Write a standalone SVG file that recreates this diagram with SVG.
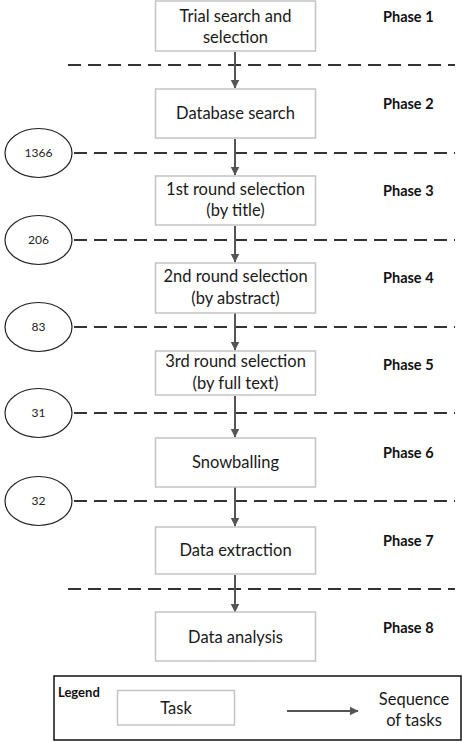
<svg xmlns="http://www.w3.org/2000/svg" width="462" height="743" viewBox="0 0 462 743">
<defs>
<marker id="ah" markerWidth="9" markerHeight="10" refX="7.5" refY="4" orient="auto" markerUnits="userSpaceOnUse" viewBox="0 0 8 8">
<path d="M0,0 L8,4 L0,8 z" fill="#555"/>
</marker>
</defs>
<style>
.box{fill:#fff;stroke:#c4c4c4;stroke-width:1.5}
.t{font-family:Lato,"Liberation Sans",sans-serif;font-size:16.5px;fill:#1a1a1a;text-anchor:middle}
.ph{font-family:Lato,"Liberation Sans",sans-serif;font-size:14.5px;font-weight:bold;fill:#111}
.n{font-family:Lato,"Liberation Sans",sans-serif;font-size:12px;fill:#222;text-anchor:middle}
.ell{fill:#fff;stroke:#222;stroke-width:1.2}
.dash{stroke:#333;stroke-width:1.8;stroke-dasharray:13 7;fill:none}
.arr{stroke:#555;stroke-width:2;fill:none;marker-end:url(#ah)}
</style>
<rect width="462" height="743" fill="#fff"/>
<g id="separators">
<line class="dash" x1="68" y1="65" x2="455" y2="65"/>
<line class="dash" x1="74" y1="153" x2="455" y2="153"/>
<line class="dash" x1="74" y1="240" x2="455" y2="240"/>
<line class="dash" x1="74" y1="327" x2="455" y2="327"/>
<line class="dash" x1="74" y1="413" x2="455" y2="413"/>
<line class="dash" x1="74" y1="501" x2="455" y2="501"/>
<line class="dash" x1="68" y1="589" x2="455" y2="589"/>
</g>
<g id="connectors">
<line class="arr" x1="235" y1="52" x2="235" y2="88"/>
<line class="arr" x1="235" y1="139" x2="235" y2="175"/>
<line class="arr" x1="235" y1="226" x2="235" y2="262"/>
<line class="arr" x1="235" y1="313" x2="235" y2="350"/>
<line class="arr" x1="235" y1="396" x2="235" y2="437"/>
<line class="arr" x1="235" y1="487" x2="235" y2="526"/>
<line class="arr" x1="235" y1="575" x2="235" y2="612"/>
</g>
<g id="n1"><rect class="box" x="155.5" y="1" width="160" height="50"/><text class="t" x="235.5" y="22">Trial search and</text><text class="t" x="235.5" y="43">selection</text></g>
<g id="n2"><rect class="box" x="155.5" y="89" width="160" height="49"/><text class="t" x="235.5" y="119">Database search</text></g>
<g id="n3"><rect class="box" x="155.5" y="176" width="160" height="49"/><text class="t" x="235.5" y="195">1st round selection</text><text class="t" x="235.5" y="216">(by title)</text></g>
<g id="n4"><rect class="box" x="155.5" y="263" width="160" height="50"/><text class="t" x="235.5" y="282">2nd round selection</text><text class="t" x="235.5" y="304">(by abstract)</text></g>
<g id="n5"><rect class="box" x="155.5" y="351" width="160" height="44"/><text class="t" x="235.5" y="367">3rd round selection</text><text class="t" x="235.5" y="389">(by full text)</text></g>
<g id="n6"><rect class="box" x="155.5" y="438" width="160" height="49"/><text class="t" x="235.5" y="468">Snowballing</text></g>
<g id="n7"><rect class="box" x="155.5" y="527" width="160" height="47"/><text class="t" x="235.5" y="556">Data extraction</text></g>
<g id="n8"><rect class="box" x="155.5" y="612" width="160" height="49"/><text class="t" x="235.5" y="643">Data analysis</text></g>
<g id="phases">
<text class="ph" x="383" y="22">Phase 1</text>
<text class="ph" x="383" y="109">Phase 2</text>
<text class="ph" x="383" y="196">Phase 3</text>
<text class="ph" x="383" y="283">Phase 4</text>
<text class="ph" x="383" y="370">Phase 5</text>
<text class="ph" x="383" y="458">Phase 6</text>
<text class="ph" x="383" y="546">Phase 7</text>
<text class="ph" x="383" y="633">Phase 8</text>
</g>
<g id="c1"><ellipse class="ell" cx="38.5" cy="153" rx="33.5" ry="24.5"/><text class="n" x="38.5" y="157">1366</text></g>
<g id="c2"><ellipse class="ell" cx="38.5" cy="240" rx="33.5" ry="24.5"/><text class="n" x="38.5" y="244">206</text></g>
<g id="c3"><ellipse class="ell" cx="38.5" cy="327" rx="33.5" ry="24.5"/><text class="n" x="38.5" y="331">83</text></g>
<g id="c4"><ellipse class="ell" cx="38.5" cy="413" rx="33.5" ry="24.5"/><text class="n" x="38.5" y="417">31</text></g>
<g id="c5"><ellipse class="ell" cx="38.5" cy="501" rx="33.5" ry="24.5"/><text class="n" x="38.5" y="505">32</text></g>
<g id="legend">
<rect x="54" y="676" width="407" height="64" fill="#fff" stroke="#111" stroke-width="1.5"/>
<text class="ph" x="58" y="697" style="font-size:13px">Legend</text>
<rect class="box" x="117.5" y="690.5" width="117" height="34.5"/>
<text class="t" x="176" y="714">Task</text>
<line class="arr" x1="287" y1="711" x2="358" y2="711"/>
<text class="t" x="414" y="705">Sequence</text>
<text class="t" x="414" y="726">of tasks</text>
</g>
</svg>
